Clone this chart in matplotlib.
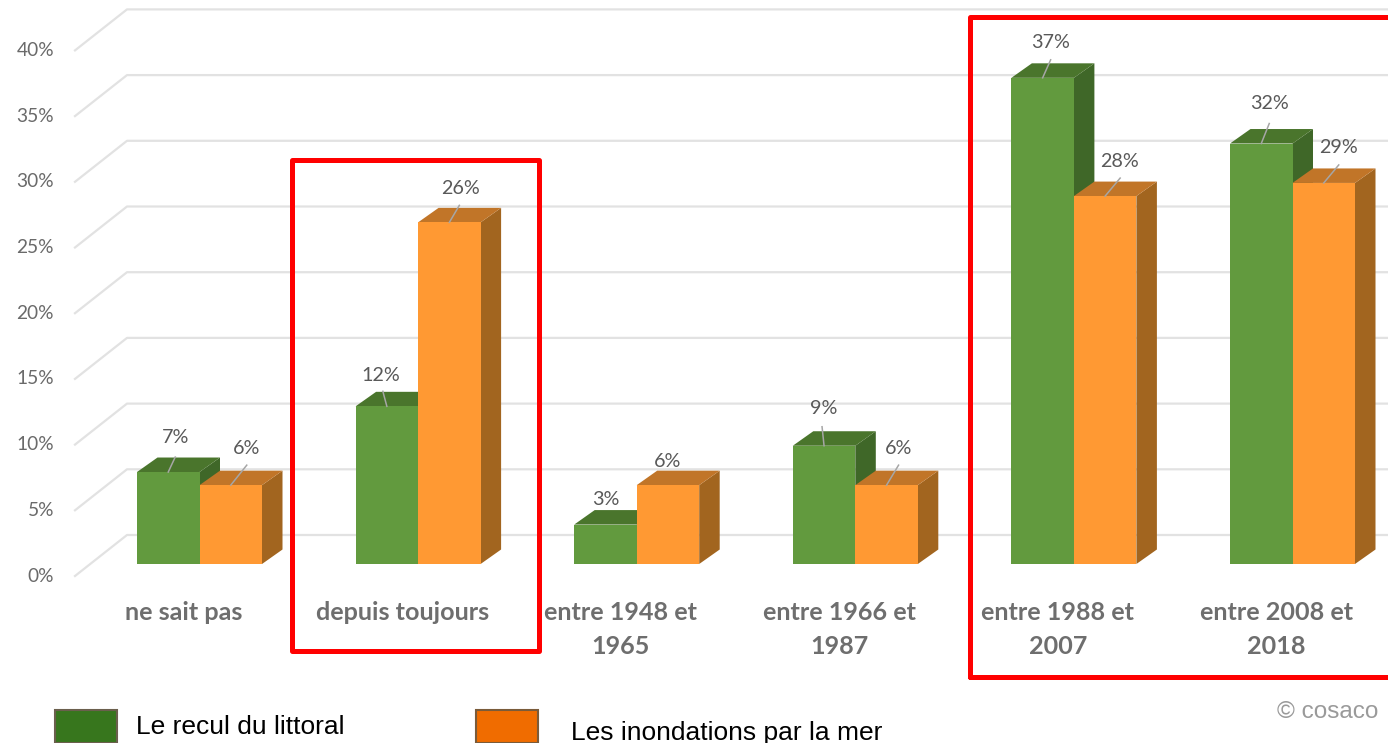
import matplotlib
import numpy as np

matplotlib.use("Agg")
import matplotlib.pyplot as plt
from matplotlib.patches import Polygon, Rectangle

categories = [
    "ne sait pas",
    "depuis toujours",
    "entre 1948 et\n1965",
    "entre 1966 et\n1987",
    "entre 1988 et\n2007",
    "entre 2008 et\n2018",
]
recul = [7, 12, 3, 9, 37, 32]
inondations = [6, 26, 6, 6, 28, 29]
y_ticks = [0, 5, 10, 15, 20, 25, 30, 35, 40]

WIDTH, HEIGHT = 1388, 743
PX_PER_PCT = 13.14
PX_PER_CAT = 218.6
BAR = 62.5 / PX_PER_CAT
DX = 20.5 / PX_PER_CAT
DY = 14.5 / PX_PER_PCT

GREEN = ("#629a3e", "#4a752c", "#3f6728")
ORANGE = ("#ff9933", "#c17528", "#a2651f")
TEXT_GREY = "#595959"

# label offsets from the middle of the bar top, in pixels (label dx, dy, leader dx, dy)
recul_offsets = [(7, 35, 7, 15), (-6, 31, -4, 15), (0, 25, 0, 0), (0, 37, -2, 19), (8, 35, 8, 18), (8, 40, 8, 20)]
inond_offsets = [(16, 37, 16, 20), (11, 34, 10, 17), (0, 24, 0, 0), (12, 37, 12, 20), (14, 35, 15, 18), (15, 35, 15, 18)]


def px_x(value):
    return value / PX_PER_CAT


def px_y(value):
    return value / PX_PER_PCT


def draw_bar(ax, x, value, colors):
    left, right = x, x + BAR
    side = [(right, 0), (right + DX, DY), (right + DX, value + DY), (right, value)]
    top = [(left, value), (left + DX, value + DY), (right + DX, value + DY), (right, value)]
    ax.add_patch(Polygon(side, closed=True, fc=colors[2], ec="none", zorder=3))
    ax.add_patch(Polygon(top, closed=True, fc=colors[1], ec="none", zorder=3))
    ax.bar(x, value, width=BAR, align="edge", color=colors[0], zorder=3)


def draw_label(ax, x, value, offset):
    center = x + BAR / 2
    if offset[3]:
        ax.plot(
            [center, center + px_x(offset[2])],
            [value, value + px_y(offset[3])],
            color="#a6a6a6",
            linewidth=1.1,
            zorder=4,
        )
    ax.annotate(
        f"{value}%",
        (center, value),
        xytext=(offset[0] * 0.72, offset[1] * 0.72),
        textcoords="offset points",
        ha="center",
        va="center",
        fontsize=14.2,
        color=TEXT_GREY,
        zorder=5,
    )


plt.rcParams["font.family"] = ["Lato", "DejaVu Sans"]
figure = plt.figure(figsize=(WIDTH / 100, HEIGHT / 100), dpi=100)
ax = figure.add_axes([0, 0, 1, 1])
ax.set_xlim(-199.5 / PX_PER_CAT, (WIDTH - 199.5) / PX_PER_CAT)
ax.set_ylim((564 - HEIGHT) / PX_PER_PCT, 564 / PX_PER_PCT)
ax.axis("off")

# back wall grid with the slanted floor lines on the left
back_x = (127 - 199.5) / PX_PER_CAT
front_x = (75 - 199.5) / PX_PER_CAT
back_lift = px_y(29)
front_drop = px_y(12)
for tick in y_ticks:
    ax.plot(
        [front_x, back_x, ax.get_xlim()[1]],
        [tick - front_drop, tick + back_lift, tick + back_lift],
        color="#e2e2e2",
        linewidth=1.6,
        zorder=1,
    )
    ax.text(
        (54 - 199.5) / PX_PER_CAT,
        tick - px_y(12),
        f"{tick}%",
        ha="right",
        va="center",
        fontsize=13.8,
        color="#6a6a6a",
    )

positions = np.arange(len(categories))
for index, name in enumerate(categories):
    x = positions[index]
    draw_bar(ax, x - BAR, recul[index], GREEN)
    draw_bar(ax, x, inondations[index], ORANGE)
    draw_label(ax, x - BAR, recul[index], recul_offsets[index])
    draw_label(ax, x, inondations[index], inond_offsets[index])
    ax.text(
        x + px_x(-16),
        px_y(-37),
        name,
        ha="center",
        va="top",
        fontsize=18.1,
        fontweight="bold",
        color="#6e6e6e",
        linespacing=1.56,
    )

# red highlight frames, in figure pixels
for x0, y0, x1, y1 in [(292, 160, 538.5, 651), (970, 17, 1400, 677)]:
    figure.add_artist(
        Rectangle(
            (x0 / WIDTH, 1 - y1 / HEIGHT),
            (x1 - x0) / WIDTH,
            (y1 - y0) / HEIGHT,
            transform=figure.transFigure,
            fill=False,
            edgecolor="#ff0000",
            linewidth=3.6,
            joinstyle="round",
            capstyle="round",
            zorder=10,
        )
    )

# legend drawn by hand, it sits outside the original chart
for x0, face, edge, label, text_x, text_y in [
    (55, "#37761d", "#6b5f4d", "Le recul du littoral", 136, 727),
    (476, "#f06c00", "#7a5b3a", "Les inondations par la mer", 571, 733),
]:
    figure.add_artist(
        Rectangle(
            (x0 / WIDTH, 1 - 743 / HEIGHT),
            62 / WIDTH,
            33 / HEIGHT,
            transform=figure.transFigure,
            facecolor=face,
            edgecolor=edge,
            linewidth=1.5,
        )
    )
    figure.text(
        text_x / WIDTH,
        1 - text_y / HEIGHT,
        label,
        ha="left",
        va="center",
        fontsize=19,
        family=["Liberation Sans"],
        color="black",
    )

figure.text(
    1378 / WIDTH,
    1 - 712 / HEIGHT,
    "© cosaco",
    ha="right",
    va="center",
    fontsize=17.5,
    family=["Liberation Sans"],
    color="#9a9a9a",
)

figure.savefig("out.png", dpi=100)
plt.close(figure)
